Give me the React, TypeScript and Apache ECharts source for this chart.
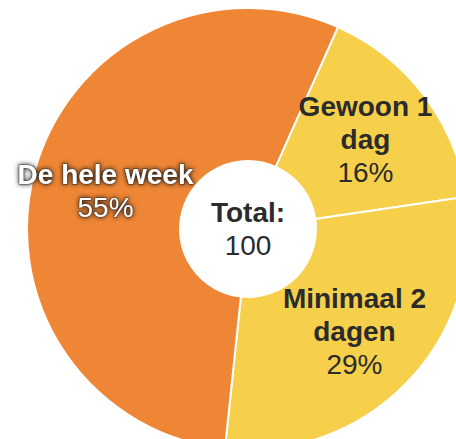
import React, { useEffect, useRef } from "react";
import * as echarts from "echarts";

const categories = ["Gewoon 1\ndag", "Minimaal 2\ndagen", "De hele week"];
const values = [16, 29, 55];
const colors = ["#F6D04A", "#F6D04A", "#EE8635"];
const labelColors = ["#2b2b2b", "#2b2b2b", "#ffffff"];
const totalLabel = "Total:";

const FONT = "'Liberation Sans', Arial, Helvetica, sans-serif";

export default function App() {
  const ref = useRef<HTMLDivElement>(null);
  useEffect(() => {
    if (!ref.current) return;
    const chart = echarts.init(ref.current, undefined, { renderer: "svg" });
    const total = values.reduce((a, b) => a + b, 0);
    const data = categories.map((name, i) => {
      const light = labelColors[i] === "#ffffff";
      const fx = light
        ? {
            textShadowColor: "rgba(0,0,0,0.9)",
            textShadowBlur: 5,
            textBorderColor: "rgba(40,40,40,0.55)",
            textBorderWidth: 1.5,
          }
        : { textShadowColor: "transparent", textShadowBlur: 0 };
      return {
        name,
        value: values[i],
        itemStyle: { color: colors[i] },
        label: {
          color: labelColors[i],
          ...fx,
          rich: {
            n: {
              fontFamily: FONT,
              fontWeight: "bold",
              fontSize: 28,
              lineHeight: 33,
              color: labelColors[i],
              ...fx,
            },
            p: {
              fontFamily: FONT,
              fontSize: 28,
              lineHeight: 33,
              color: labelColors[i],
              ...fx,
            },
          },
        },
      };
    });
    chart.setOption({
      animation: false,
      backgroundColor: "#ffffff",
      series: [
        {
          type: "pie",
          center: [248, 229],
          radius: [68, 221],
          startAngle: 66,
          clockwise: true,
          avoidLabelOverlap: false,
          itemStyle: { borderColor: "#ffffff", borderWidth: 2 },
          label: {
            show: true,
            position: "inside",
            formatter: (p: any) => `{n|${p.name}}\n{p|${Math.round(p.percent)}%}`,
          },
          labelLine: { show: false },
          emphasis: { disabled: true },
          data,
        },
      ],
      graphic: [
        {
          type: "text",
          x: 248,
          y: 229,
          style: {
            text: `{t|${totalLabel}}\n{v|${total}}`,
            align: "center",
            verticalAlign: "middle",
            rich: {
              t: { fontFamily: FONT, fontWeight: "bold", fontSize: 28, lineHeight: 33, fill: "#2b2b2b", align: "center" },
              v: { fontFamily: FONT, fontSize: 28, lineHeight: 33, fill: "#2b2b2b", align: "center" },
            },
          },
        },
      ],
    });
    return () => chart.dispose();
  }, []);
  return (
    <div
      ref={ref}
      style={{ position: "absolute", left: 0, top: 0, width: 456, height: 439 }}
    />
  );
}
